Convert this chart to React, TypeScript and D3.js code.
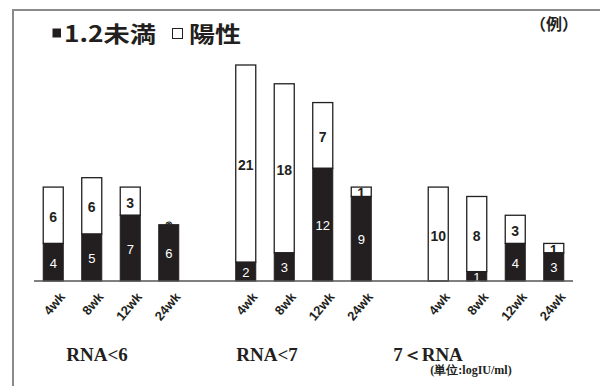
import React from "react";
import * as d3 from "d3";

const categories = ["4wk", "8wk", "12wk", "24wk"];
const groups = ["RNA<6", "RNA<7", "7＜RNA"];
// 1.2未満 (black) and 陽性 (white) counts, per group per week
const below12 = [4, 5, 7, 6, 2, 3, 12, 9, 0, 1, 4, 3];
const positive = [6, 6, 3, 0, 21, 18, 7, 1, 10, 8, 3, 1];
const legendLabels = ["1.2未満", "陽性"];
const noteLabel = "（例）";
const unitLabel = "(単位:logIU/ml)";

const W = 600;
const H = 386;

export default function App() {
  // slot keys: 4 bars per group, plus one gap slot between groups
  const slots: string[] = [];
  groups.forEach((g, gi) => {
    categories.forEach((c) => slots.push(`${gi}-${c}`));
    if (gi < groups.length - 1) slots.push(`gap-${gi}`);
  });
  const x = d3
    .scaleBand<string>()
    .domain(slots)
    .range([34, 573])
    .paddingInner(0.48)
    .paddingOuter(0.24);
  const y = d3.scaleLinear().domain([0, 23]).range([281, 65]);
  const bw = x.bandwidth();

  const bars = groups.flatMap((g, gi) =>
    categories.map((c, ci) => {
      const i = gi * categories.length + ci;
      return { key: `${gi}-${c}`, cat: c, gi, b: below12[i], p: positive[i] };
    })
  );

  const numFont = "'Liberation Sans Narrow', 'Liberation Sans', Arial, sans-serif";
  const cjk = "'Noto Sans CJK JP', sans-serif";
  const groupLabelX = [97, 267, 428];

  return (
    <svg width={W} height={H} style={{ position: "absolute", left: 0, top: 0, background: "#fff" }}>
      <rect x={0} y={0} width={W} height={H} fill="#fff" />
      {/* frame */}
      <line x1={12} y1={10} x2={W} y2={10} stroke="#8a8a8a" strokeWidth={2} />
      <line x1={13} y1={9} x2={13} y2={H} stroke="#8a8a8a" strokeWidth={2} />

      {/* legend */}
      <rect x={52.5} y={28.5} width={8.5} height={9} fill="#231f20" />
      <text x={64} y={42} fontFamily={cjk} fontWeight="bold" fontSize={22} fill="#231f20"
        textLength={92} lengthAdjust="spacingAndGlyphs">{legendLabels[0]}</text>
      <rect x={172.5} y={28.5} width={10} height={10} fill="#fff" stroke="#231f20" strokeWidth={1} />
      <text x={189} y={42} fontFamily={cjk} fontWeight="bold" fontSize={22} fill="#231f20"
        textLength={52} lengthAdjust="spacingAndGlyphs">{legendLabels[1]}</text>
      <text x={554} y={30} textAnchor="middle" fontFamily={cjk} fontWeight="bold" fontSize={16} fill="#231f20">{noteLabel}</text>

      {/* zero labels (peek behind bars) */}
      {bars.filter((d) => d.p === 0 && d.b > 0).map((d) => (
        <text key={`z-${d.key}`} x={(x(d.key) ?? 0) + bw / 2} y={y(d.b) + 1.5} textAnchor="middle" dominantBaseline="central"
          fontFamily={numFont} fontWeight="bold" fontSize={13} fill="#fff" stroke="#231f20" strokeWidth={1}>0</text>
      ))}

      {/* white (陽性) segments */}
      {bars.filter((d) => d.p > 0).map((d) => (
        <rect key={`p-${d.key}`} x={x(d.key)} y={y(d.b + d.p)} width={bw} height={y(d.b) - y(d.b + d.p)}
          fill="#fff" stroke="#231f20" strokeWidth={1.3} />
      ))}
      {bars.filter((d) => d.p > 0).map((d) => (
        <text key={`pt-${d.key}`} x={(x(d.key) ?? 0) + bw / 2} y={(y(d.b) + y(d.b + d.p)) / 2 + 1.5}
          textAnchor="middle" dominantBaseline="central" fontFamily={numFont} fontWeight="bold" fontSize={14} fill="#231f20">{d.p}</text>
      ))}
      {/* black (1.2未満) segments */}
      {bars.filter((d) => d.b > 0).map((d) => (
        <rect key={`b-${d.key}`} x={x(d.key)} y={y(d.b)} width={bw} height={y(0) - y(d.b)}
          fill="#231f20" stroke="#231f20" strokeWidth={1} />
      ))}
      {bars.filter((d) => d.b > 0).map((d) => (
        <text key={`bt-${d.key}`} x={(x(d.key) ?? 0) + bw / 2} y={(y(0) + y(d.b)) / 2 + 1}
          textAnchor="middle" dominantBaseline="central" fontFamily={numFont} fontSize={13} fill="#fff">{d.b}</text>
      ))}

      {/* baseline */}
      <line x1={34} y1={y(0)} x2={573} y2={y(0)} stroke="#555" strokeWidth={1.5} />

      {/* tick labels */}
      {bars.map((d) => {
        const cx = (x(d.key) ?? 0) + bw / 2 + 5;
        const cy = 291;
        return (
          <text key={`t-${d.key}`} x={cx} y={cy} textAnchor="end" transform={`rotate(-50 ${cx} ${cy})`}
            fontFamily={numFont} fontWeight="bold" fontSize={13} fill="#231f20" dominantBaseline="hanging">{d.cat}</text>
        );
      })}

      {/* group labels */}
      {groups.map((g, gi) => (
        <text key={g} x={groupLabelX[gi]} y={361} textAnchor="middle"
          fontFamily="'Liberation Serif', 'Times New Roman', serif" fontWeight="bold" fontSize={19} fill="#231f20">{g}</text>
      ))}
      <text x={471} y={374} textAnchor="middle" fontFamily="'Liberation Serif', 'Times New Roman', serif" fontWeight="bold"
        fontSize={12} fill="#231f20">{unitLabel}</text>
    </svg>
  );
}
